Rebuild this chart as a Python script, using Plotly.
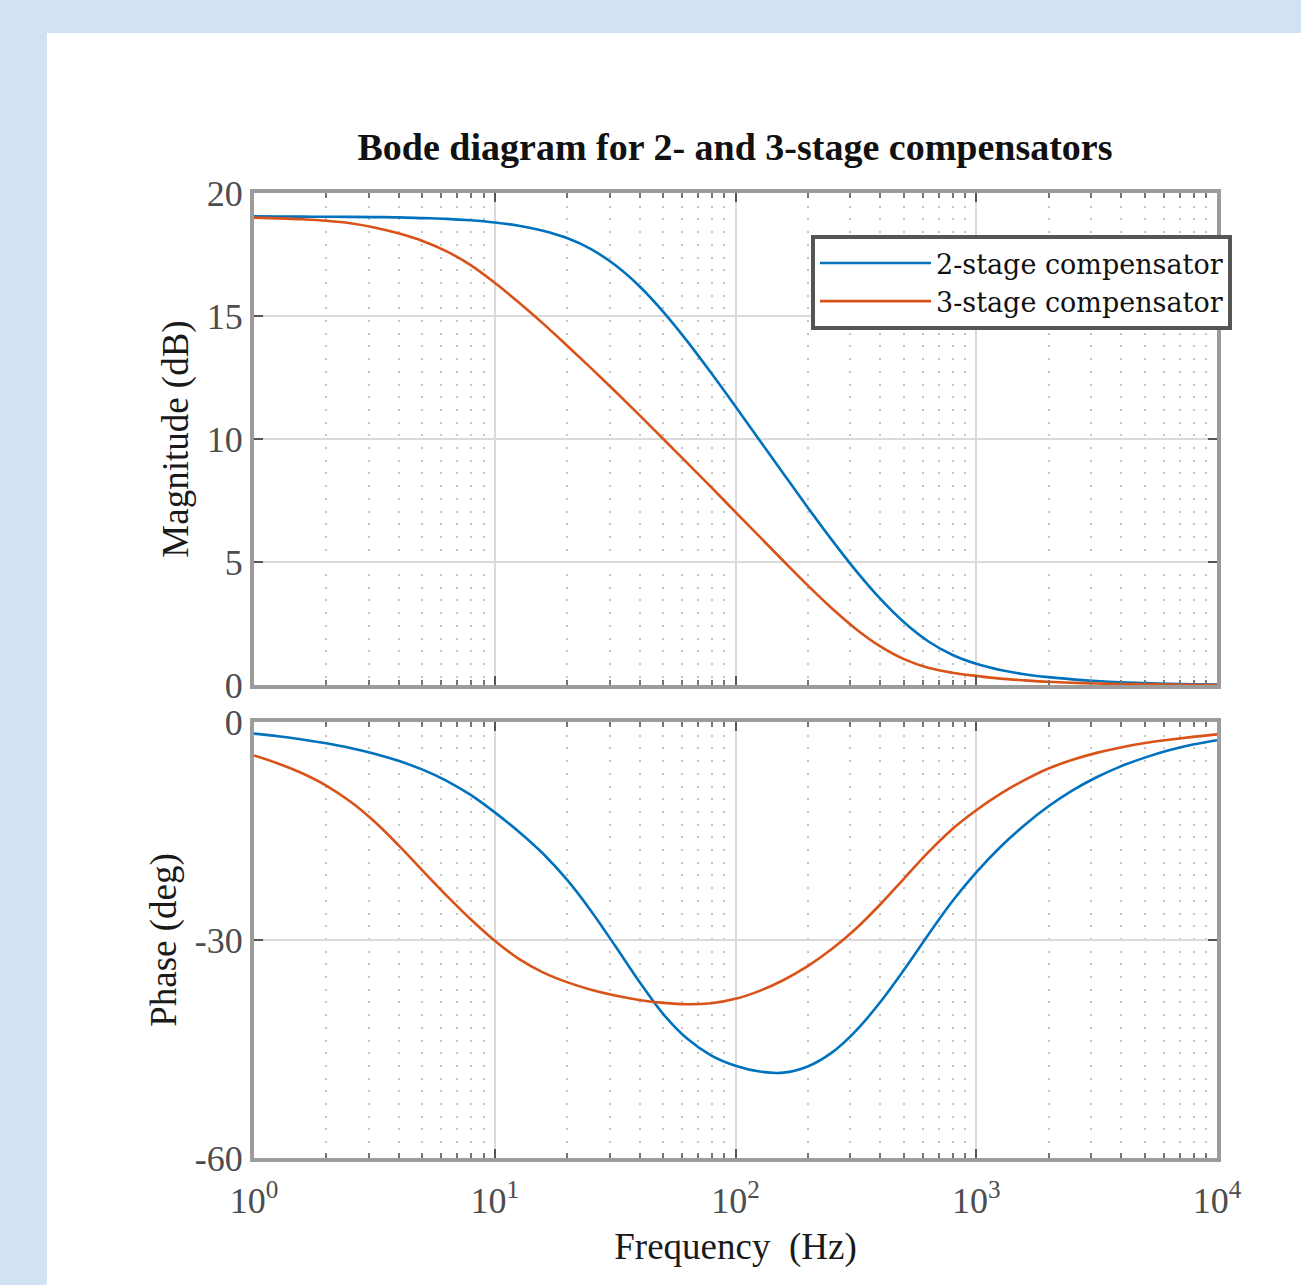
import plotly.graph_objects as go
from plotly.subplots import make_subplots

# ---- data (frequencies at 10 points per decade, 1 Hz .. 10 kHz) ----
freq_hz = [1.0, 1.259, 1.585, 1.995, 2.512, 3.162, 3.981, 5.012, 6.31, 7.943,
           10.0, 12.59, 15.85, 19.95, 25.12, 31.62, 39.81, 50.12, 63.1, 79.43,
           100.0, 125.9, 158.5, 199.5, 251.2, 316.2, 398.1, 501.2, 631.0, 794.3,
           1000.0, 1259, 1585, 1995, 2512, 3162, 3981, 5012, 6310, 7943, 10000.0]

mag_2stage = [19.05, 19.045, 19.04, 19.035, 19.03, 19.02, 19.01, 18.98, 18.95, 18.89,
              18.8, 18.67, 18.47, 18.17, 17.72, 17.07, 16.22, 15.17, 13.97, 12.67,
              11.32, 9.95, 8.58, 7.22, 5.9, 4.65, 3.52, 2.55, 1.78, 1.23,
              0.86, 0.61, 0.44, 0.32, 0.23, 0.16, 0.11, 0.08, 0.05, 0.03, 0.02]
mag_3stage = [19.0, 18.97, 18.93, 18.87, 18.77, 18.6, 18.36, 18.05, 17.63, 17.07,
              16.35, 15.55, 14.7, 13.8, 12.88, 11.94, 10.98, 10.0, 9.02, 8.03,
              7.03, 6.03, 5.03, 4.05, 3.12, 2.28, 1.58, 1.05, 0.7, 0.5,
              0.37, 0.26, 0.19, 0.13, 0.09, 0.06, 0.04, 0.03, 0.02, 0.01, 0.0]

phase_2stage = [-1.6, -1.96, -2.4, -2.93, -3.57, -4.36, -5.34, -6.56, -8.09, -10.04,
                -12.44, -15.1, -18.1, -21.7, -26.0, -30.8, -35.7, -40.2, -43.6, -45.9,
                -47.3, -48.1, -48.25, -47.4, -45.5, -42.5, -38.6, -34.1, -29.3, -24.7,
                -20.7, -17.2, -14.2, -11.6, -9.4, -7.6, -6.1, -4.9, -3.9, -3.1, -2.5]
phase_3stage = [-4.6, -5.7, -7.05, -8.75, -10.95, -13.7, -16.95, -20.45, -23.9, -27.15,
                -30.1, -32.6, -34.45, -35.8, -36.85, -37.65, -38.25, -38.65, -38.85, -38.7,
                -38.1, -37.0, -35.5, -33.6, -31.25, -28.45, -25.15, -21.55, -17.95, -14.75,
                -12.15, -9.9, -8.0, -6.4, -5.2, -4.25, -3.5, -2.9, -2.45, -2.05, -1.7]

series_names = ["2-stage compensator", "3-stage compensator"]
series_colors = ["#0072BD", "#D95319"]

x_tickvals = [1, 10, 100, 1000, 10000]
x_ticktext = ["10<sup>0</sup>", "10<sup>1</sup>", "10<sup>2</sup>", "10<sup>3</sup>", "10<sup>4</sup>"]
mag_ticks = [0, 5, 10, 15, 20]
mag_ticktext = ["0", "5", "10", "15", "20"]
phase_ticks = [-60, -30, 0]
phase_ticktext = ["-60", "-30", "0"]

title_text = "<b>Bode diagram for 2- and 3-stage compensators</b>"
x_title = "Frequency  (Hz)"
mag_title = "Magnitude (dB)"
phase_title = "Phase (deg)"

# ---- figure ----
W, H = 1301, 1285
L, R, T, B = 254, 84, 193, 127
plot_h = H - T - B
plot_w = W - L - R

top_lo = (1158 - 685) / plot_h
bot_hi = (1158 - 722) / plot_h

fig = make_subplots(rows=2, cols=1, shared_xaxes=True, vertical_spacing=0.0)

for name, color, mag, ph in zip(series_names, series_colors,
                                [mag_2stage, mag_3stage], [phase_2stage, phase_3stage]):
    fig.add_trace(go.Scatter(x=freq_hz, y=mag, mode="lines", name=name,
                             line=dict(color=color, width=2.6, shape="spline", smoothing=1.0,
                                       simplify=False)),
                  row=1, col=1)
    fig.add_trace(go.Scatter(x=freq_hz, y=ph, mode="lines", name=name, showlegend=False,
                             line=dict(color=color, width=2.6, shape="spline", smoothing=1.0,
                                       simplify=False)),
                  row=2, col=1)

SERIF = "Liberation Serif, Times New Roman, serif"
axis_col = "#9c9c9c"
grid_col = "#dadada"
minor_col = "#c4c4c4"
tick_font = dict(family=SERIF, size=36, color="#4d4d4d")
title_font = dict(family=SERIF, size=37, color="#1a1a1a")

common_x = dict(type="log", range=[0, 4], showline=True, linecolor=axis_col, linewidth=4, mirror="ticks",
                ticks="inside", ticklen=9, tickwidth=2, tickcolor="#555",
                showgrid=True, gridcolor=grid_col, gridwidth=1.5,
                tickvals=x_tickvals, ticktext=x_ticktext,
                minor=dict(dtick="D1", ticks="inside", ticklen=5, tickcolor="#777",
                           showgrid=True, gridcolor=minor_col, griddash="2px,10.7px", gridwidth=1.5),
                tickfont=tick_font, zeroline=False)

fig.update_xaxes(**common_x)
fig.update_xaxes(showticklabels=False, row=1, col=1)
fig.update_xaxes(ticklabelstandoff=8,
                 title=dict(text=x_title, font=title_font, standoff=14),
                 row=2, col=1)
fig.update_layout(xaxis=dict(domain=[0, 1]), xaxis2=dict(domain=[0, 1]))

common_y = dict(showline=True, linecolor=axis_col, linewidth=4, mirror="ticks",
                ticks="inside", ticklen=9, tickwidth=2, tickcolor="#555",
                showgrid=True, gridcolor=grid_col, gridwidth=1.5, zeroline=False,
                tickfont=tick_font)

fig.update_yaxes(range=[0, 20], tickvals=mag_ticks, ticktext=mag_ticktext, domain=[top_lo, 1.0],
                 title=dict(text=mag_title, font=title_font, standoff=8),
                 row=1, col=1, **common_y)
fig.update_yaxes(range=[-60, 0], tickvals=phase_ticks, ticktext=phase_ticktext, domain=[0, bot_hi],
                 title=dict(text=phase_title, font=title_font, standoff=8),
                 row=2, col=1, **common_y)

# white sheet over the light-blue page background
fig.add_shape(type="rect", xref="paper", yref="paper", layer="below",
              x0=(47 - L) / plot_w, x1=(W + 20 - L) / plot_w,
              y0=(1158 - H - 20) / plot_h, y1=(1158 - 33) / plot_h,
              fillcolor="white", line=dict(width=0))

fig.update_layout(
    width=W, height=H,
    margin=dict(l=L, r=R, t=T, b=B, autoexpand=False),
    paper_bgcolor="#d3e2f2",
    plot_bgcolor="white",
    font=dict(family=SERIF, color="#222"),
    title=dict(text=title_text, x=735 / W, xanchor="center", xref="container",
               y=1 - 147 / H, yanchor="middle", yref="container",
               font=dict(family=SERIF, size=38, color="#111")),
    legend=dict(x=(811 - L) / plot_w, y=(1158 - 235) / plot_h, xanchor="left", yanchor="top",
                bgcolor="white", bordercolor="#555", borderwidth=4,
                font=dict(family="DejaVu Serif, serif", size=27, color="#111"), itemwidth=111,
                tracegroupgap=0),
    showlegend=True,
)

fig.write_html("out.html")
